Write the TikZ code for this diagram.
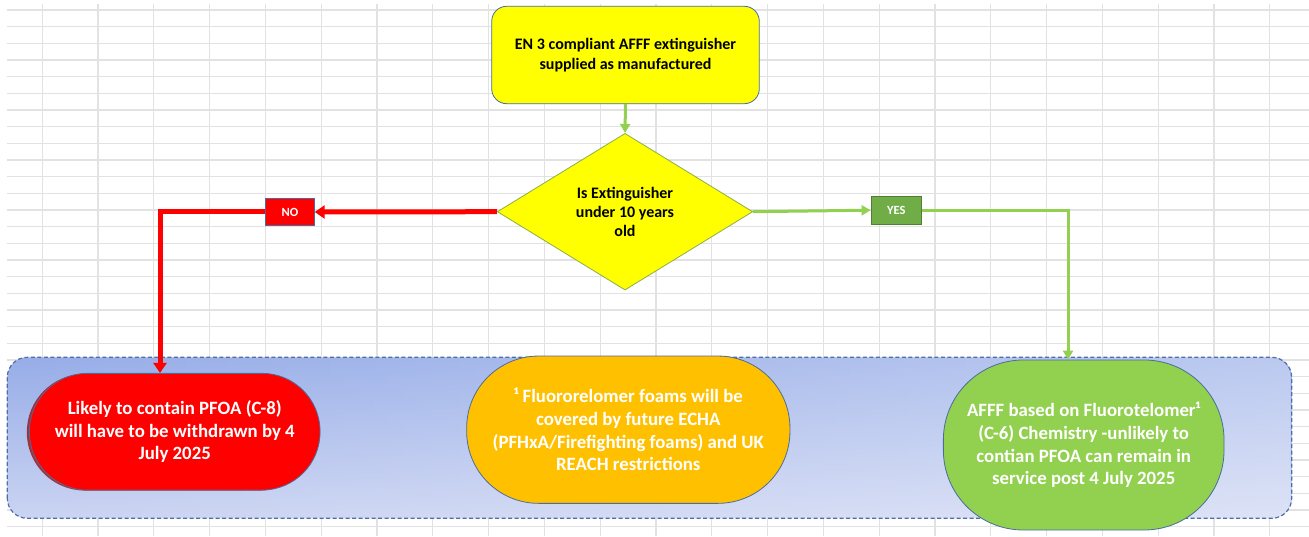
\documentclass[tikz,border=0pt]{standalone}
\usepackage{fontspec}
\setmainfont{Carlito}
\usetikzlibrary{arrows.meta,shapes.geometric,fadings,shadows}

\definecolor{gridgray}{HTML}{E2E2E2}
\definecolor{boxyellow}{HTML}{FFFF00}
\definecolor{slateedge}{HTML}{4A6C9E}
\definecolor{diaedge}{HTML}{8AAE48}
\definecolor{linegreen}{HTML}{92D050}
\definecolor{linered}{HTML}{FF0000}
\definecolor{yesfill}{HTML}{70AD47}
\definecolor{yesedge}{HTML}{507E32}
\definecolor{paneltop}{HTML}{97ADE8}
\definecolor{panelbot}{HTML}{CBD4F2}
\definecolor{paneledge}{HTML}{4F6EA8}
\definecolor{orangefill}{HTML}{FFC000}
\definecolor{greenfill}{HTML}{92D050}
\definecolor{darkred}{HTML}{9A1010}

\tikzfading[name=panelfade, left color=transparent!100, right color=transparent!65]

\begin{document}
\begin{tikzpicture}[x=1pt,y=1pt,
  gridline/.style={draw=gridgray, line width=1.2pt},
  topbox/.style={draw=slateedge, line width=0.8pt, fill=boxyellow, rounded corners=15pt,
    minimum width=267.6pt, minimum height=97.4pt, inner sep=0pt, align=center,
    font=\fontsize{16}{19.5}\selectfont\bfseries},
  decision/.style={diamond, draw=diaedge, line width=0.8pt, fill=boxyellow,
    minimum width=255.4pt, minimum height=156.7pt, inner sep=0pt, aspect=1.63, align=center,
    font=\fontsize{16}{19}\selectfont\bfseries},
  tag/.style={minimum width=#1, minimum height=27.8pt, inner sep=0pt, line width=0.8pt,
    text=white, font=\fontsize{12.5}{14}\selectfont\bfseries},
  outcome/.style={draw=slateedge, line width=0.8pt, inner sep=0pt, align=center, text=white,
    font=\fontsize{18.8}{22.7}\selectfont\bfseries},
  redline/.style={draw=linered, line width=5pt, -{Triangle[length=10pt,width=13pt]}},
  greenline/.style={draw=linegreen, line width=3pt, -{Triangle[length=9pt,width=10pt]}}
]
\useasboundingbox (0,0) rectangle (1309,536);
\fill[white] (0,0) rectangle (1309,536);

% spreadsheet grid behind the chart
\foreach \k in {0,...,31}
  \draw[gridline] (7,{526-16.667*\k}) -- (1309,{526-16.667*\k});
\foreach \k in {0,...,22}
  \draw[gridline] ({42.3+55.79*\k},0) -- ({42.3+55.79*\k},532);

% shaded outcome band
\shade[top color=paneltop, bottom color=panelbot, rounded corners=20pt]
  (7.3,17.7) rectangle (1291.7,178.7);
\fill[white, path fading=panelfade, rounded corners=20pt]
  (7.3,17.7) rectangle (1291.7,178.7);
\draw[paneledge, line width=1.2pt, dash pattern=on 4pt off 2.5pt, rounded corners=20pt]
  (7.3,17.7) rectangle (1291.7,178.7);

% nodes
\node[topbox] (start) at (625.5,481) {EN 3 compliant AFFF extinguisher\\supplied as manufactured};
\node[decision] (age) at (625,324.3) {Is Extinguisher\\under 10 years\\old};
\node[tag=48.6pt, fill=linered, draw=slateedge] (no) at (290,324) {NO};
\node[tag=50.7pt, fill=yesfill, draw=yesedge] (yes) at (896.3,325.8) {YES};

\node[outcome, fill=linered, minimum width=290.7pt, minimum height=116.7pt,
  rounded corners=58pt,
  drop shadow={shadow xshift=-2.5pt, shadow yshift=-0.5pt, fill=darkred, opacity=0.8}]
  (old) at (174.7,104.3) {Likely to contain PFOA (C-8)\\will have to be withdrawn by 4\\July 2025};
\node[outcome, fill=orangefill, minimum width=323.3pt, minimum height=147.3pt,
  rounded corners=72pt]
  (note) at (628.3,106.3) {¹ Fluororelomer foams will be\\covered by future ECHA\\(PFHxA/Firefighting foams) and UK\\REACH restrictions};
\node[outcome, fill=greenfill, minimum width=280.7pt, minimum height=170pt,
  rounded corners=80pt]
  (new) at (1083.7,91) {AFFF based on Fluorotelomer¹\\(C-6) Chemistry -unlikely to\\contian PFOA can remain in\\service post 4 July 2025};

% turning points of the branch connectors
\coordinate (redturn) at (160,324);
\coordinate (greenturn) at (1068,325.8);

% connectors
\draw[greenline] (start.south) -- (age.north);
\draw[redline] (age.west) -- (no.east);
\draw[redline] (no.west) -- (redturn) -- (redturn |- old.north);
\draw[greenline] (age.east) -- (yes.west);
\draw[greenline] (yes.east) -- (greenturn) -- (greenturn |- new.north);
\end{tikzpicture}
\end{document}
